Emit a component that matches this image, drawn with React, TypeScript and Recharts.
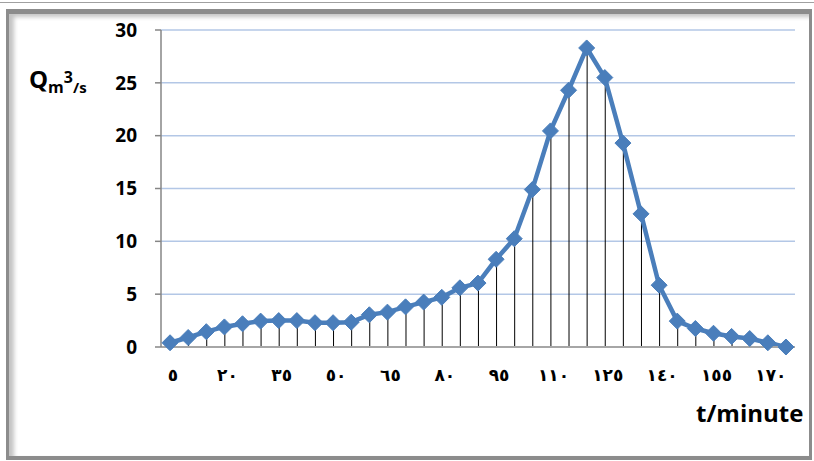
import { ComposedChart, Line, Bar, XAxis, YAxis, CartesianGrid } from 'recharts';

// time in minutes (5..175) and discharge Q in m3/s
const minutes = [
  5, 10, 15, 20, 25, 30, 35, 40, 45, 50, 55, 60, 65, 70, 75, 80, 85, 90,
  95, 100, 105, 110, 115, 120, 125, 130, 135, 140, 145, 150, 155, 160, 165, 170, 175,
];
const discharge = [
  0.4, 0.9, 1.45, 1.9, 2.2, 2.45, 2.5, 2.5, 2.3, 2.3, 2.35, 3.05, 3.3, 3.8, 4.25, 4.7, 5.6, 6.05,
  8.3, 10.25, 14.9, 20.45, 24.3, 28.3, 25.5, 19.3, 12.6, 5.85, 2.45, 1.75, 1.3, 1.0, 0.8, 0.4, 0.0,
];
const yTicks = [0, 5, 10, 15, 20, 25, 30];

const ARABIC_DIGITS = ['٠', '١', '٢', '٣', '٤', '٥', '٦', '٧', '٨', '٩'];
const toArabic = (n: number) =>
  String(n)
    .split('')
    .map((d) => ARABIC_DIGITS[Number(d)])
    .join('');

const data = minutes.map((t, i) => ({ t, q: discharge[i] }));

const BLUE = '#4a7ebb';

function Diamond(props: any) {
  const { cx, cy } = props;
  if (cx == null || cy == null) return null;
  const r = 8;
  return (
    <polygon
      points={`${cx},${cy - r} ${cx + r},${cy} ${cx},${cy + r} ${cx - r},${cy}`}
      fill={BLUE}
      stroke={BLUE}
      strokeWidth={1}
    />
  );
}

export default function App() {
  return (
    <div style={{ position: 'fixed', left: 0, top: 0, width: 814, height: 461, background: '#fff', overflow: 'hidden' }}>
      <ComposedChart
        width={814}
        height={461}
        data={data}
        margin={{ top: 30, right: 19, left: 0, bottom: 74 }}
        style={{ position: 'absolute', left: 0, top: 0 }}
      >
        <CartesianGrid vertical={false} stroke="#b3c7e6" strokeWidth={1.5} />
        <XAxis
          dataKey="t"
          interval={2}
          height={40}
          tickFormatter={(v) => toArabic(v)}
          tickLine={false}
          tickSize={0}
          tickMargin={22}
          axisLine={{ stroke: '#a6a6a6', strokeWidth: 2 }}
          tick={{ fill: '#000', fontSize: 17, fontWeight: 'bold', fontFamily: 'DejaVu Sans', letterSpacing: 6, dx: 3 }}
        />
        <YAxis
          width={161}
          domain={[0, 30]}
          ticks={yTicks}
          interval={0}
          tickSize={6}
          tickMargin={18}
          axisLine={{ stroke: '#868686', strokeWidth: 1.5 }}
          tickLine={{ stroke: '#868686', strokeWidth: 1.5 }}
          tick={{ fill: '#000', fontSize: 19, fontWeight: 'bold', fontFamily: 'Open Sans' }}
        />
        <Bar dataKey="q" barSize={1} fill="#000" isAnimationActive={false} />
        <Line
          type="linear"
          dataKey="q"
          stroke={BLUE}
          strokeWidth={4.5}
          dot={<Diamond />}
          activeDot={false}
          isAnimationActive={false}
        />
      </ComposedChart>
      {/* frame */}
      <div style={{ position: 'absolute', left: 0, top: 2, width: 814, height: 1, background: '#a0a0a0' }} />
      <div
        style={{
          position: 'absolute',
          boxSizing: 'border-box',
          left: 6,
          top: 9,
          width: 806,
          height: 451,
          borderTop: '5px solid #8c8c8c',
          borderLeft: '3px solid #8c8c8c',
          borderBottom: '4px solid #8c8c8c',
          borderRight: '3px solid #8c8c8c',
          boxShadow: 'inset 5px 3px 4px #c4c4c4',
          pointerEvents: 'none',
        }}
      />
      <div
        style={{
          position: 'absolute',
          left: 29,
          top: 62,
          fontFamily: 'Open Sans',
          fontWeight: 'bold',
          color: '#000',
          whiteSpace: 'nowrap',
        }}
      >
        <span style={{ fontSize: 24 }}>Q</span>
        <span style={{ fontSize: 16, position: 'relative', top: 5 }}>m</span>
        <span style={{ fontSize: 16, position: 'relative', top: -5 }}>3</span>
        <span style={{ fontSize: 15, position: 'relative', top: 5 }}>/s</span>
      </div>
      <div
        style={{
          position: 'absolute',
          left: 696,
          top: 396,
          fontFamily: 'Open Sans',
          fontWeight: 'bold',
          fontSize: 24,
          color: '#000',
        }}
      >
        t/minute
      </div>
    </div>
  );
}
